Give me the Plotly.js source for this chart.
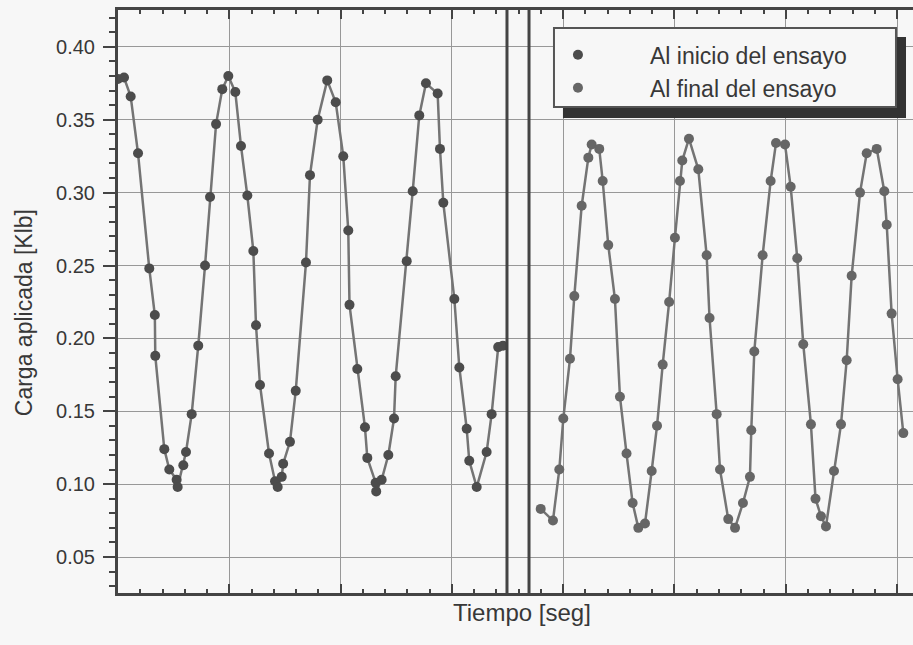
<!DOCTYPE html>
<html><head><meta charset="utf-8">
<script src="https://cdn.plot.ly/plotly-3.0.1.min.js"></script>
<style>html,body{margin:0;padding:0;background:#f7f7f7}</style>
</head><body><div id="chart" style="width:913px;height:645px"></div>
<script>
const seriesNames = ["Al inicio del ensayo", "Al final del ensayo"];

const tInicio = [0.00,0.054,0.114,0.180,0.281,0.331,0.335,0.416,0.461,0.527,0.536,0.587,0.611,0.662,0.721,0.782,0.827,0.881,0.937,0.991,1.054,1.105,1.162,1.216,1.240,1.276,1.357,1.411,1.435,1.471,1.484,1.545,1.597,1.689,1.725,1.794,1.880,1.956,2.024,2.069,2.080,2.150,2.219,2.240,2.315,2.320,2.369,2.429,2.480,2.495,2.594,2.648,2.707,2.767,2.872,2.893,2.923,3.022,3.067,3.133,3.156,3.223,3.312,3.357,3.416,3.459];
const cargaInicio = [0.378,0.379,0.366,0.327,0.248,0.216,0.188,0.124,0.110,0.103,0.098,0.113,0.122,0.148,0.195,0.250,0.297,0.347,0.371,0.380,0.369,0.332,0.298,0.260,0.209,0.168,0.121,0.102,0.098,0.105,0.114,0.129,0.164,0.252,0.312,0.350,0.377,0.362,0.325,0.274,0.223,0.179,0.139,0.118,0.101,0.095,0.103,0.120,0.145,0.174,0.253,0.301,0.353,0.375,0.368,0.330,0.293,0.227,0.180,0.138,0.116,0.098,0.122,0.148,0.194,0.195];

const tFinal = [3.798,3.908,3.965,4.001,4.061,4.100,4.166,4.226,4.256,4.324,4.355,4.405,4.465,4.510,4.569,4.624,4.675,4.735,4.795,4.843,4.894,4.952,5.004,5.049,5.070,5.130,5.214,5.289,5.315,5.379,5.409,5.483,5.544,5.615,5.678,5.690,5.717,5.792,5.864,5.912,5.993,6.044,6.103,6.157,6.226,6.267,6.316,6.361,6.433,6.496,6.547,6.592,6.667,6.727,6.817,6.885,6.907,6.951,7.005,7.056];
const cargaFinal = [0.083,0.075,0.110,0.145,0.186,0.229,0.291,0.324,0.333,0.330,0.308,0.264,0.227,0.160,0.121,0.087,0.070,0.073,0.109,0.140,0.182,0.225,0.269,0.308,0.322,0.337,0.316,0.257,0.214,0.148,0.110,0.076,0.070,0.087,0.105,0.137,0.191,0.257,0.308,0.334,0.333,0.304,0.255,0.196,0.141,0.090,0.078,0.071,0.109,0.141,0.185,0.243,0.300,0.327,0.330,0.301,0.278,0.217,0.172,0.135];

const yTickVals = [0.05,0.10,0.15,0.20,0.25,0.30,0.35,0.40];
const yTickText = ["0.05","0.10","0.15","0.20","0.25","0.30","0.35","0.40"];
const xTitle = "Tiempo [seg]";
const yTitle = "Carga aplicada [Klb]";
const axisBreak = [3.495, 3.693];

const FONT = '"Liberation Sans", Arial, sans-serif';
const lineColor = '#747474';
const darkMarker = '#4c4c4c';
const lightMarker = '#666666';
const axisCol = '#444444';
const textCol = '#383838';

const traces = [
  {x: tInicio, y: cargaInicio, mode: 'lines', line: {color: lineColor, width: 2.5}, showlegend: false, hoverinfo: 'skip'},
  {x: tInicio, y: cargaInicio, mode: 'markers', name: seriesNames[0], legendgroup: 'a',
   marker: {color: darkMarker, size: 10}},
  {x: tFinal, y: cargaFinal, mode: 'lines', line: {color: lineColor, width: 2.5}, showlegend: false, hoverinfo: 'skip'},
  {x: tFinal, y: cargaFinal, mode: 'markers', name: seriesNames[1], legendgroup: 'b',
   marker: {color: lightMarker, size: 10}}
];

const layout = {
  width: 913, height: 645,
  margin: {l: 118, r: 0, t: 10, b: 52},
  paper_bgcolor: '#f7f7f7', plot_bgcolor: '#f7f7f7',
  font: {family: FONT, color: textCol},
  showlegend: true,
  xaxis: {
    range: [0, 7.143], tick0: 0, dtick: 1, showticklabels: false,
    ticks: 'inside', ticklen: 9, tickwidth: 2, tickcolor: axisCol,
    showline: true, linewidth: 3, linecolor: axisCol, mirror: 'allticks',
    showgrid: true, gridcolor: '#989898', gridwidth: 1, zeroline: false,
    minor: {dtick: 0.2, tick0: 0, ticks: 'inside', ticklen: 4, tickwidth: 2, tickcolor: axisCol, showgrid: false}
  },
  yaxis: {
    range: [0.0253, 0.4253], tickmode: 'array', tickvals: yTickVals, ticktext: yTickText,
    ticks: 'outside', ticklen: 12, tickwidth: 2, tickcolor: axisCol,
    showline: true, linewidth: 3, linecolor: axisCol, mirror: false,
    showgrid: true, gridcolor: '#989898', gridwidth: 1, zeroline: false,
    tickfont: {size: 20, color: textCol, family: FONT}, ticklabelstandoff: 4,
    minor: {dtick: 0.01, tick0: 0, ticks: 'outside', ticklen: 6, tickwidth: 2, tickcolor: axisCol, showgrid: false}
  },
  legend: {
    x: 0.488, y: 0.96, xanchor: 'left', yanchor: 'top',
    bgcolor: 'rgba(0,0,0,0)', borderwidth: 0,
    font: {size: 23, color: textCol, family: FONT},
    itemwidth: 134, tracegroupgap: 6, traceorder: 'normal'
  },
  annotations: [
    {text: xTitle, xref: 'paper', yref: 'paper', x: 0.508, y: -0.033, xanchor: 'center', yanchor: 'middle',
     showarrow: false, font: {size: 24, color: textCol, family: FONT}},
    {text: yTitle, xref: 'paper', yref: 'paper', x: -0.1182, y: 0.48, xanchor: 'center', yanchor: 'middle',
     textangle: -90, showarrow: false, font: {size: 23, color: textCol, family: FONT}}
  ],
  shapes: [
    {type: 'line', xref: 'x', yref: 'paper', x0: axisBreak[0], x1: axisBreak[0], y0: 0, y1: 1, line: {color: axisCol, width: 3}},
    {type: 'line', xref: 'x', yref: 'paper', x0: axisBreak[1], x1: axisBreak[1], y0: 0, y1: 1, line: {color: axisCol, width: 3}},
    {type: 'rect', xref: 'paper', yref: 'paper', x0: 0.5597, x1: 0.9912, y0: 0.8148, y1: 0.9537, fillcolor: '#333333', line: {width: 0}},
    {type: 'rect', xref: 'paper', yref: 'paper', x0: 0.5484, x1: 0.9786, y0: 0.8336, y1: 0.9691, fillcolor: '#f7f7f7', line: {color: '#555555', width: 2}}
  ]
};

Plotly.newPlot('chart', traces, layout, {displayModeBar: false, staticPlot: true});
</script>
</body></html>
